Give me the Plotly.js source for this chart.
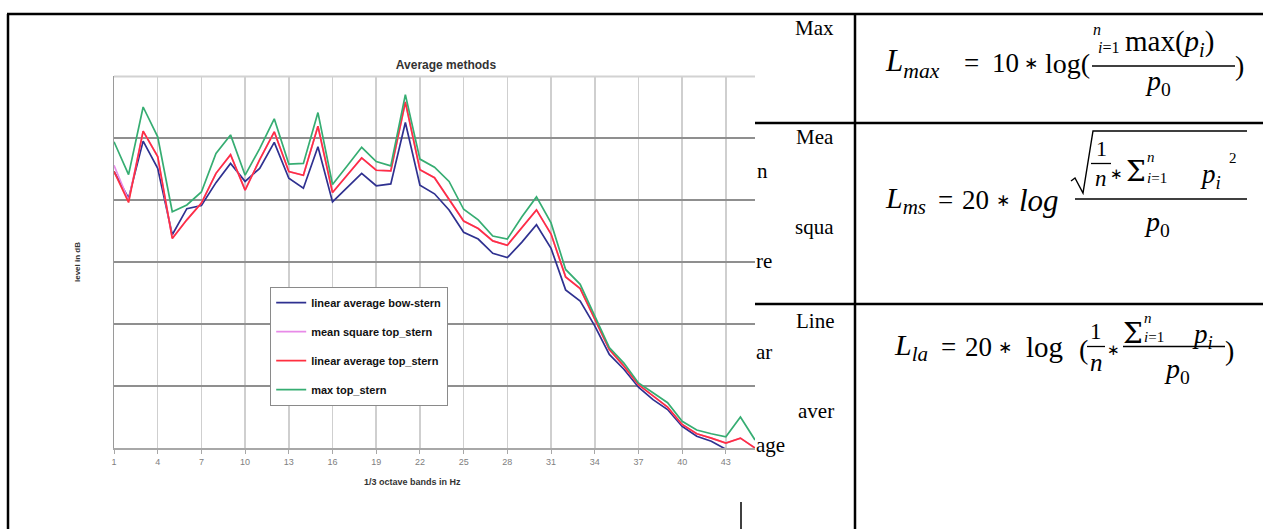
<!DOCTYPE html>
<html>
<head>
<meta charset="utf-8">
<script src="https://cdn.plot.ly/plotly-3.0.1.min.js"></script>
<style>html,body{margin:0;padding:0;background:#fff;}#chart{width:1263px;height:529px;}</style>
</head>
<body>
<div id="chart"></div>
<script>
// 1/3 octave band index
const bands = [1,2,3,4,5,6,7,8,9,10,11,12,13,14,15,16,17,18,19,20,21,22,23,24,25,26,27,28,29,30,31,32,33,34,35,36,37,38,39,40,41,42,43,44,45];
const tickBands = [1,4,7,10,13,16,19,22,25,28,31,34,37,40,43];
const tickLabels = ['1','4','7','10','13','16','19','22','25','28','31','34','37','40','43'];

const seriesNames = ['linear average bow-stern','mean square top_stern','linear average top_stern','max top_stern'];
const seriesColors = ['#2f3190','#e88ae8','#ff3040','#36ad72'];

const linAvgBowStern = [44.6,40.3,49.5,45.1,34.4,38.6,39.1,42.8,45.9,43.0,45.1,49.3,43.5,41.9,48.6,39.7,42.0,44.3,42.3,42.6,52.5,42.4,41.0,38.4,34.8,33.7,31.4,30.7,33.2,36.0,32.2,25.5,23.7,19.7,15.1,12.7,9.8,7.8,6.2,3.5,1.9,1.1,-0.2,-1.5,-2.5];
const meanSquareTopStern = [45.6,39.9,51.1,47.0,33.8,36.8,39.5,44.3,47.3,41.6,46.5,51.0,44.6,44.0,51.9,41.2,44.0,46.8,44.8,44.7,55.8,44.9,43.6,40.2,36.6,35.4,33.4,32.7,35.5,38.4,34.5,27.6,25.7,20.8,15.9,13.2,10.2,8.4,6.6,3.8,2.3,1.6,0.8,1.6,0.0];
const linAvgTopStern = [44.6,39.6,51.1,47.0,33.8,36.8,39.5,44.3,47.3,41.6,46.5,51.0,44.6,44.0,51.9,41.2,44.0,46.8,44.8,44.7,55.8,44.9,43.6,40.2,36.6,35.4,33.4,32.7,35.5,38.4,34.5,27.6,25.7,20.8,15.9,13.2,10.2,8.4,6.6,3.8,2.3,1.6,0.8,1.6,0.0];
const maxTopStern = [49.4,44.1,55.0,50.2,38.1,39.2,41.3,47.5,50.5,44.0,48.3,53.1,45.8,45.9,54.1,42.5,45.5,48.5,46.2,45.5,57.0,46.6,45.3,43.0,38.5,36.8,34.2,33.7,37.3,40.5,36.3,28.8,26.4,21.3,16.2,13.7,10.5,8.9,7.3,4.3,2.9,2.3,1.8,5.0,1.3];

const tableLabels = ['Max','Mea','n','squa','re','Line','ar','aver','age'];

const allSeries = [linAvgBowStern, meanSquareTopStern, linAvgTopStern, maxTopStern];
const traces = allSeries.map((ys, k) => ({
  x: bands, y: ys, type: 'scatter', mode: 'lines', name: seriesNames[k],
  legendgroup: 'g' + k,
  line: {color: seriesColors[k], width: 1.7}
}));

// pixel -> paper helpers (plot area: x 114..755, y 76..448)
const L = 114, T = 76, W = 641, H = 372;
const px = v => (v - L) / W;
const py = v => (T + H - v) / H;
const MATH = 'Liberation Serif';
const SIG = 'DejaVu Serif';
function A(text, x, y, size, xanchor, fam, yanchor) {
  return {text: text, x: px(x), y: py(y), xref: 'paper', yref: 'paper',
    xanchor: xanchor || 'center', yanchor: yanchor || 'middle', showarrow: false, borderpad: 0,
    font: {family: fam || MATH, size: size, color: '#000'}};
}
function Ln(x0, y0, x1, y1, w, c) {
  return {type: 'line', xref: 'paper', yref: 'paper', x0: px(x0), y0: py(y0), x1: px(x1), y1: py(y1),
    line: {color: c || '#000', width: w}};
}
const AST = 'DejaVu Sans';
const TF = 'Liberation Serif';
const annotations = [
  // x axis title
  {text: '<b>1/3 octave bands in Hz</b>', x: px(412), y: py(482), xref: 'paper', yref: 'paper',
   xanchor: 'center', yanchor: 'middle', showarrow: false, font: {family: 'Liberation Sans', size: 9, color: '#333'}},
  // table left column words
  A(tableLabels[0], 835, 28, 21, 'right', TF),
  A(tableLabels[1], 835, 137, 21, 'right', TF),
  A(tableLabels[2], 756, 171, 21, 'left', TF),
  A(tableLabels[3], 835, 227, 21, 'right', TF),
  A(tableLabels[4], 755, 261, 21, 'left', TF),
  A(tableLabels[5], 835, 321, 21, 'right', TF),
  A(tableLabels[6], 755, 352, 21, 'left', TF),
  A(tableLabels[7], 835, 411, 21, 'right', TF),
  A(tableLabels[8], 755, 445, 21, 'left', TF),
  // formula 1
  A('<i>L</i><sub><i>max</i></sub>', 941, 63, 31, 'right'),
  A('=', 971, 63, 27),
  A('10', 1005, 63, 27),
  A('∗', 1031, 63, 17, 'center', AST),
  A('log(', 1091, 63, 28, 'right'),
  A('<i>n</i>', 1097, 39, 16, 'center', MATH, 'bottom'),
  A('<i>i</i>=1', 1108, 38, 16, 'center', MATH, 'top'),
  A('max(<i>p</i><sub><i>i</i></sub>)', 1124, 43, 29, 'left'),
  A('<i>p</i><sub>0</sub>', 1158, 82, 28),
  A(')', 1239, 65, 28),
  // formula 2
  A('<i>L</i><sub><i>ms</i></sub>', 927, 200, 30, 'right'),
  A('=', 945, 200, 27),
  A('20', 976, 200, 27),
  A('∗', 1003, 200, 17, 'center', AST),
  A('<i>log</i>', 1039, 200, 31, 'center'),
  A('1', 1101, 162, 22, 'center', MATH, 'bottom'),
  A('<i>n</i>', 1101, 165, 23, 'center', MATH, 'top'),
  A('∗', 1116, 174, 15, 'center', AST),
  A('Σ', 1136, 171, 28, 'center', SIG),
  A('<i>n</i>', 1151, 166, 15, 'center', MATH, 'bottom'),
  A('<i>i</i>=1', 1146, 169, 15, 'left', MATH, 'top'),
  A('<i>p</i><sub><i>i</i></sub>', 1199, 176, 27, 'left'),
  A('2', 1233, 158, 15),
  A('<i>p</i><sub>0</sub>', 1157, 223, 28),
  // formula 3
  A('<i>L</i><sub><i>la</i></sub>', 929, 347, 30, 'right'),
  A('=', 948, 347, 27),
  A('20', 978, 347, 27),
  A('∗', 1005, 347, 17, 'center', AST),
  A('log', 1044, 347, 29, 'center'),
  A('(', 1083, 349, 28),
  A('1', 1096, 345, 23, 'center', MATH, 'bottom'),
  A('<i>n</i>', 1096, 348, 25, 'center', MATH, 'top'),
  A('∗', 1113, 350, 15, 'center', AST),
  A('Σ', 1133, 333, 28, 'center', SIG),
  A('<i>n</i>', 1148, 327, 15, 'center', MATH, 'bottom'),
  A('<i>i</i>=1', 1143, 328, 15, 'left', MATH, 'top'),
  A('<i>p</i><sub><i>i</i></sub>', 1191, 336, 27, 'left'),
  A('<i>p</i><sub>0</sub>', 1177, 370, 28),
  A(')', 1229, 350, 28)
];

const shapes = [
  // top plot border (light)
  Ln(114, 76.5, 755, 76.5, 2, '#d2d2d2'),
  // table frame
  Ln(7, 14, 1263, 14, 2.5),
  Ln(8, 14, 8, 529, 2.5),
  Ln(855, 14, 855, 529, 2.5),
  Ln(755, 123, 1263, 123, 2.5),
  Ln(755, 304, 1263, 304, 2.5),
  Ln(741, 502, 741, 529, 1.5),
  // fraction bars
  Ln(1092, 66, 1235, 66, 1.5),
  Ln(1075, 199, 1247, 199, 1.5),
  Ln(1091, 163.5, 1111, 163.5, 1.3),
  Ln(1087, 346.5, 1105, 346.5, 1.3),
  Ln(1123, 346.5, 1225, 346.5, 1.5),
  // radical sign
  {type: 'path', xref: 'paper', yref: 'paper',
   path: 'M' + px(1071) + ',' + py(181) + ' L' + px(1075) + ',' + py(178) + ' L' + px(1083) + ',' + py(193) +
         ' L' + px(1093) + ',' + py(131) + ' L' + px(1247) + ',' + py(131),
   line: {color: '#000', width: 1.4}}
];

const layout = {
  width: 1263, height: 529,
  margin: {l: 114, r: 508, t: 76, b: 81, pad: 0},
  paper_bgcolor: '#fff', plot_bgcolor: '#fff',
  font: {family: 'Liberation Sans', color: '#333'},
  title: {text: '<b>Average methods</b>', x: 446 / 1263, xref: 'container', xanchor: 'center',
          y: 1 - 65 / 529, yref: 'container', yanchor: 'middle',
          font: {family: 'Liberation Sans', size: 12, color: '#333'}},
  showlegend: true,
  legend: {x: px(270), y: py(287), xref: 'paper', yref: 'paper', xanchor: 'left', yanchor: 'top',
           bgcolor: '#fff', bordercolor: '#8a8a8a', borderwidth: 1.2,
           font: {family: 'Liberation Sans', size: 11, color: '#111', weight: 'bold'},
           traceorder: 'grouped', tracegroupgap: 10, itemwidth: 30},
  xaxis: {range: [1, 45], tickvals: tickBands, ticktext: tickLabels,
          showgrid: true, gridcolor: '#cfcfcf', gridwidth: 1.5, zeroline: false,
          showline: true, linecolor: '#a8a8a8', linewidth: 2,
          ticks: 'outside', ticklen: 4, tickcolor: '#a8a8a8', tickwidth: 1,
          tickfont: {family: 'Liberation Sans', size: 9, color: '#808080'}, fixedrange: true},
  yaxis: {range: [0, 60], tickvals: [10, 20, 30, 40, 50], showticklabels: false,
          showgrid: true, gridcolor: '#8f8f8f', gridwidth: 1.4, zeroline: false,
          showline: true, linecolor: '#9a9a9a', linewidth: 1.5, ticks: '',
          title: {text: '<b>level in dB</b>', standoff: 30, font: {family: 'Liberation Sans', size: 8, color: '#333'}},
          fixedrange: true},
  annotations: annotations,
  shapes: shapes
};

Plotly.newPlot('chart', traces, layout, {displayModeBar: false, staticPlot: true});
</script>
</body>
</html>
